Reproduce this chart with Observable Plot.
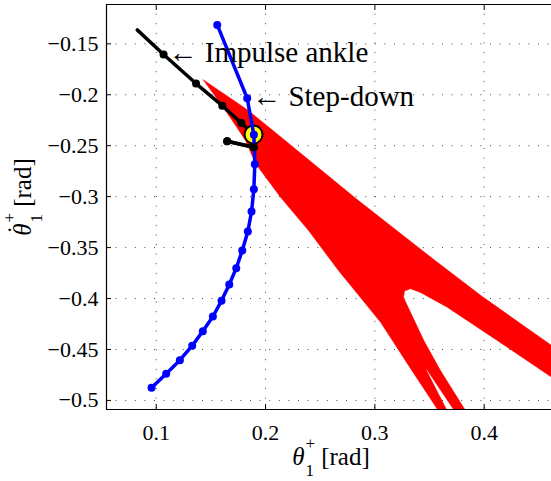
<!DOCTYPE html>
<html><head><meta charset="utf-8">
<script src="https://cdn.jsdelivr.net/npm/d3@7"></script>
<script src="https://cdn.jsdelivr.net/npm/@observablehq/plot@0.6"></script>
<style>body{margin:0;background:#fff} svg{display:block} svg text{font-family:'Liberation Serif','DejaVu Serif',serif}</style>
</head><body><div id="chart"></div>
<script>
// axes
const xTicks = [0.1, 0.2, 0.3, 0.4];
const yTicks = [-0.5, -0.45, -0.4, -0.35, -0.3, -0.25, -0.2, -0.15];
const xDomain = [0.0545, 0.4625];
const yDomain = [-0.5089, -0.1114];

// red region boundary (theta, theta-dot)
const regionX = [0.1430, 0.1830, 0.2045, 0.2838, 0.3539, 0.3982, 0.4616, 0.5000,
  0.5000, 0.4616, 0.4119, 0.3662, 0.3417, 0.3326, 0.3271, 0.3262, 0.3448, 0.3600,
  0.3857, 0.3756, 0.3481, 0.3463, 0.3683, 0.3609, 0.3326, 0.3052, 0.2667, 0.2393,
  0.2137, 0.1908, 0.1817, 0.1634];
const regionY = [-0.1853, -0.2144, -0.2331, -0.3028, -0.3617, -0.3980, -0.4460, -0.4755,
  -0.5039, -0.4772, -0.4411, -0.4085, -0.3940, -0.3904, -0.3926, -0.3990, -0.4411, -0.4706,
  -0.5147, -0.5147, -0.4706, -0.4686, -0.5147, -0.5147, -0.4686, -0.4232, -0.3725, -0.3332,
  -0.3005, -0.2675, -0.2449, -0.2155];

// blue: step-down trajectory
const blueX = [0.1558, 0.1832, 0.1893, 0.1902, 0.1893, 0.1872, 0.1838, 0.1787, 0.1732,
  0.1668, 0.1597, 0.1518, 0.1426, 0.1329, 0.1216, 0.1091, 0.0957];
const blueY = [-0.1314, -0.2034, -0.2393, -0.2681, -0.2927, -0.3146, -0.3342, -0.3528, -0.3702,
  -0.3862, -0.4022, -0.4176, -0.4320, -0.4463, -0.4605, -0.4738, -0.4876];

// black: impulse ankle trajectory
const blackX = [0.0826, 0.1067, 0.1364, 0.1604, 0.1778, 0.1890, 0.1892, 0.1649];
const blackY = [-0.1363, -0.1605, -0.1890, -0.2107, -0.2277, -0.2390, -0.2515, -0.2456];
const blackMarker = [false, true, true, true, true, false, true, true];

// fixed point
const fixedX = [0.1890];
const fixedY = [-0.2390];

// annotations
const noteText = ["\u2190 Impulse ankle", "\u2190 Step-down"];
const noteX = [0.1067, 0.1832];
const noteY = [-0.1605, -0.2034];

const region = regionX.map((x, i) => ({x, y: regionY[i]}));
const blue = blueX.map((x, i) => ({x, y: blueY[i]}));
const black = blackX.map((x, i) => ({x, y: blackY[i], m: blackMarker[i]}));
const tail = black.slice(6);
const fixed = fixedX.map((x, i) => ({x, y: fixedY[i]}));
const notes = noteText.map((t, i) => ({t, x: noteX[i], y: noteY[i]}));

const serif = "'Liberation Serif', 'DejaVu Serif', serif";
const gridStyle = {stroke: "#444", strokeOpacity: 1, strokeWidth: 1, strokeDasharray: "1,8.6"};

const svg = Plot.plot({
  width: 551, height: 481,
  marginLeft: 106, marginRight: -1, marginTop: 4, marginBottom: 72,
  style: {fontFamily: serif, fontSize: "22px", background: "white", color: "black"},
  x: {domain: xDomain},
  y: {domain: yDomain},
  marks: [
    Plot.gridX(xTicks, gridStyle),
    Plot.gridY(yTicks, gridStyle),
    Plot.line(region, {x: "x", y: "y", fill: "red", stroke: "red", strokeWidth: 0.5, curve: "linear-closed", clip: true}),
    Plot.line(black, {x: "x", y: "y", stroke: "black", strokeWidth: 3.5}),
    Plot.dot(black.filter(d => d.m), {x: "x", y: "y", r: 4, fill: "black"}),
    Plot.dot(fixed, {x: "x", y: "y", r: 9, fill: "yellow", stroke: "black", strokeWidth: 2}),
    Plot.line(blue, {x: "x", y: "y", stroke: "blue", strokeWidth: 3.5}),
    Plot.dot(blue, {x: "x", y: "y", r: 4, fill: "blue"}),
    Plot.line(tail, {x: "x", y: "y", stroke: "black", strokeWidth: 3.5}),
    Plot.dot(tail, {x: "x", y: "y", r: 4, fill: "black"}),
    Plot.text(notes, {x: "x", y: "y", text: "t", textAnchor: "start", dx: 5, dy: -2, fontSize: 29, fontFamily: serif, fill: "black"}),
    Plot.ruleX([xDomain[0]], {stroke: "black", strokeWidth: 1.2}),
    Plot.ruleY(yDomain, {stroke: "black", strokeWidth: 1.2}),
    Plot.axisX(xTicks, {anchor: "bottom", tickSize: -5, tickPadding: 20, label: null, fontFamily: serif, fontSize: 22, tickFormat: d3.format("~g")}),
    Plot.axisX(xTicks, {anchor: "top", tickSize: -5, fill: "none", label: null}),
    Plot.axisY(yTicks, {anchor: "left", tickSize: -5, tickPadding: 13, label: null, fontFamily: serif, fontSize: 22, tickFormat: d3.format("~g")})
  ]
});

// axis labels with stacked sub/superscripts
function addLabel(sel, dot) {
  sel.append("tspan").attr("font-style", "italic").text("\u03B8");
  let back = 1;
  if (dot) {
    sel.append("tspan").attr("dx", "-10.5").attr("dy", "-6").text("\u02D9");
    back = 3;
  }
  sel.append("tspan").attr("font-size", "17px").attr("dy", dot ? "-10" : "-16").attr("dx", back).text("+");
  sel.append("tspan").attr("font-size", "17px").attr("dy", "27").attr("dx", "-9.6").text("1");
  sel.append("tspan").attr("dy", "-11").attr("dx", "1").text("\u00A0[rad]");
}
const s = d3.select(svg);
const xl = s.append("text").attr("x", 331).attr("y", 465).attr("text-anchor", "middle")
  .attr("font-family", serif).attr("font-size", "25px").attr("fill", "black");
addLabel(xl, false);
const yl = s.append("text").attr("transform", "translate(31,197) rotate(-90)").attr("text-anchor", "middle")
  .attr("font-family", serif).attr("font-size", "25px").attr("fill", "black");
addLabel(yl, true);

document.getElementById("chart").appendChild(svg);
</script>
</body></html>
